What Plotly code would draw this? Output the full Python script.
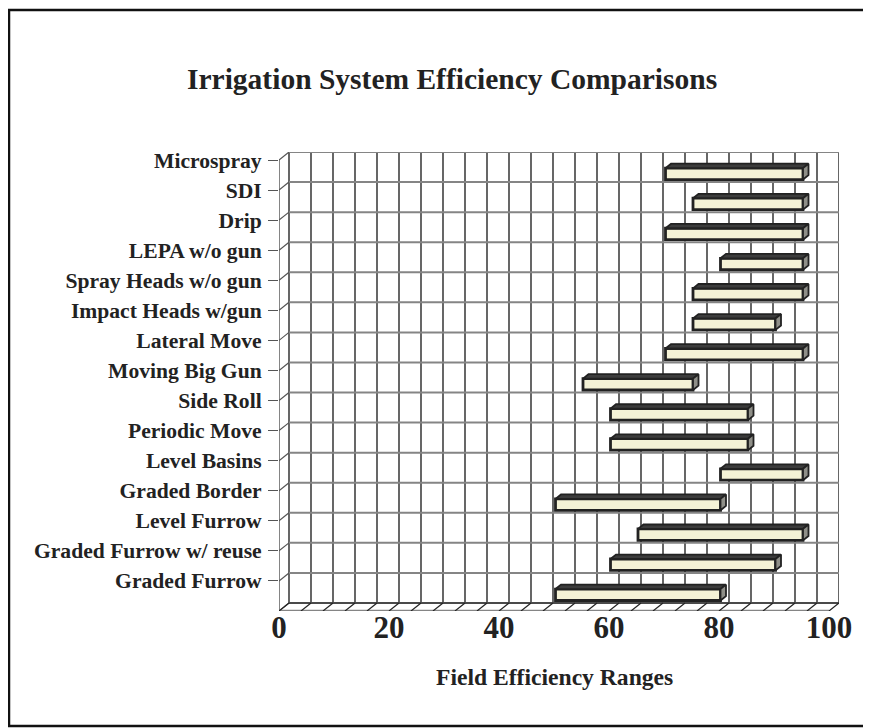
import plotly.graph_objects as go

# ---- data ----
categories = ["Microspray", "SDI", "Drip", "LEPA w/o gun", "Spray Heads w/o gun",
              "Impact Heads w/gun", "Lateral Move", "Moving Big Gun", "Side Roll",
              "Periodic Move", "Level Basins", "Graded Border", "Level Furrow",
              "Graded Furrow w/ reuse", "Graded Furrow"]
low_values = [70, 75, 70, 80, 75, 75, 70, 55, 60, 60, 80, 50, 65, 60, 50]
high_values = [95, 95, 95, 95, 95, 90, 95, 75, 85, 85, 95, 80, 95, 90, 80]
x_tick_values = [0, 20, 40, 60, 80, 100]
x_grid_step = 4

# ---- 3D look parameters ----
N = len(categories)
DX = 10 / 5.5      # depth offset in x data units
DY = 8 / 30.07     # depth offset in row units
FD = 0.85          # depth of bar front face
FB = 0.30          # depth of bar back face
BH = 0.38          # bar thickness (rows)

FONT = "Liberation Serif, Times New Roman, serif"
TXT = "#222222"
fig = go.Figure()

rows_center = [(N - i - 0.5) - DY * FD for i in range(N)]
bases = [lo - DX * FD for lo in low_values]
lengths = [hi - lo for lo, hi in zip(low_values, high_values)]

fig.add_trace(go.Bar(
    orientation="h", y=rows_center, x=lengths, base=bases, width=BH,
    marker=dict(color="#F4F2D6", line=dict(color="#222222", width=2.8)),
    hoverinfo="skip", showlegend=False))

ddx = DX * (FD - FB)
ddy = DY * (FD - FB)
top_x, top_y, side_x, side_y = [], [], [], []
for i in range(N):
    x0 = bases[i]
    x1 = bases[i] + lengths[i]
    yt = rows_center[i] + BH / 2
    yb = rows_center[i] - BH / 2
    top_x += [x0, x1, x1 + ddx, x0 + ddx, x0, None]
    top_y += [yt, yt, yt + ddy, yt + ddy, yt, None]
    side_x += [x1, x1, x1 + ddx, x1 + ddx, x1, None]
    side_y += [yb, yt, yt + ddy, yb + ddy, yb, None]

fig.add_trace(go.Scatter(x=top_x, y=top_y, mode="lines", fill="toself",
                         fillcolor="#3c3c3c", line=dict(color="#222222", width=1.8),
                         hoverinfo="skip", showlegend=False))
fig.add_trace(go.Scatter(x=side_x, y=side_y, mode="lines", fill="toself",
                         fillcolor="#8f8f88", line=dict(color="#222222", width=1.8),
                         hoverinfo="skip", showlegend=False))

# ---- walls / grid as shapes below traces ----
shapes = []
def line(x0, y0, x1, y1, color, width):
    shapes.append(dict(type="line", xref="x", yref="y", x0=x0, y0=y0, x1=x1, y1=y1,
                       line=dict(color=color, width=width), layer="below"))

grid_vals = list(range(0, 101, x_grid_step))
# back wall vertical gridlines
for v in grid_vals:
    line(v, 0, v, N, "#000000", 1.2)
# back wall horizontal gridlines
for k in range(N + 1):
    line(0, k, 100, k, "#858585", 2)
# left side wall
line(-DX, -DY, -DX, N - DY, "#858585", 2)
for k in range(N + 1):
    line(-DX, k - DY, 0, k, "#555555", 1.2)
# floor
line(-DX, -DY, 100 - DX, -DY, "#858585", 2.5)
line(0, 0, 100, 0, "#111111", 1.2)
for v in grid_vals:
    line(v - DX, -DY, v, 0, "#222222", 1.2)

# outer border
shapes.append(dict(type="rect", xref="paper", yref="paper",
                   x0=(9 - 279) / 560, x1=(868 - 279) / 560,
                   y0=(611 - 726) / 459, y1=(611 - 10) / 459,
                   line=dict(color="#111111", width=2.5), layer="below"))

fig.update_layout(
    width=863, height=720,
    margin=dict(l=271, r=32, t=144, b=117),
    paper_bgcolor="white", plot_bgcolor="white",
    barmode="overlay",
    shapes=shapes,
    showlegend=False,
    xaxis=dict(range=[-DX, 100], showgrid=False, zeroline=False, showline=False,
               tickmode="array",
               tickvals=[v - DX for v in x_tick_values],
               ticktext=[str(v) for v in x_tick_values],
               ticks="", ticklabelstandoff=-5,
               tickfont=dict(family=FONT, size=31, color=TXT, weight="bold")),
    yaxis=dict(range=[-DY, N], showgrid=False, zeroline=False, showline=False,
               tickmode="array",
               tickvals=[(N - i) - DY for i in range(N)],
               ticktext=categories,
               ticks="outside", ticklen=10, tickcolor="#555555", tickwidth=1.2,
               ticklabelstandoff=2,
               tickfont=dict(family=FONT, size=21.6, color=TXT, weight="bold")),
    annotations=[
        dict(text="Irrigation System Efficiency Comparisons", xref="paper", yref="paper",
             x=(452 - 279) / 560, y=(611 - 79) / 459, xanchor="center", yanchor="middle",
             showarrow=False, font=dict(family=FONT, size=29.5, color=TXT, weight="bold")),
        dict(text="Field Efficiency Ranges", xref="paper", yref="paper",
             x=(554 - 279) / 560, y=(611 - 677) / 459, xanchor="center", yanchor="middle",
             showarrow=False, font=dict(family=FONT, size=23.6, color=TXT, weight="bold")),
    ],
)

fig.write_html("out.html")
